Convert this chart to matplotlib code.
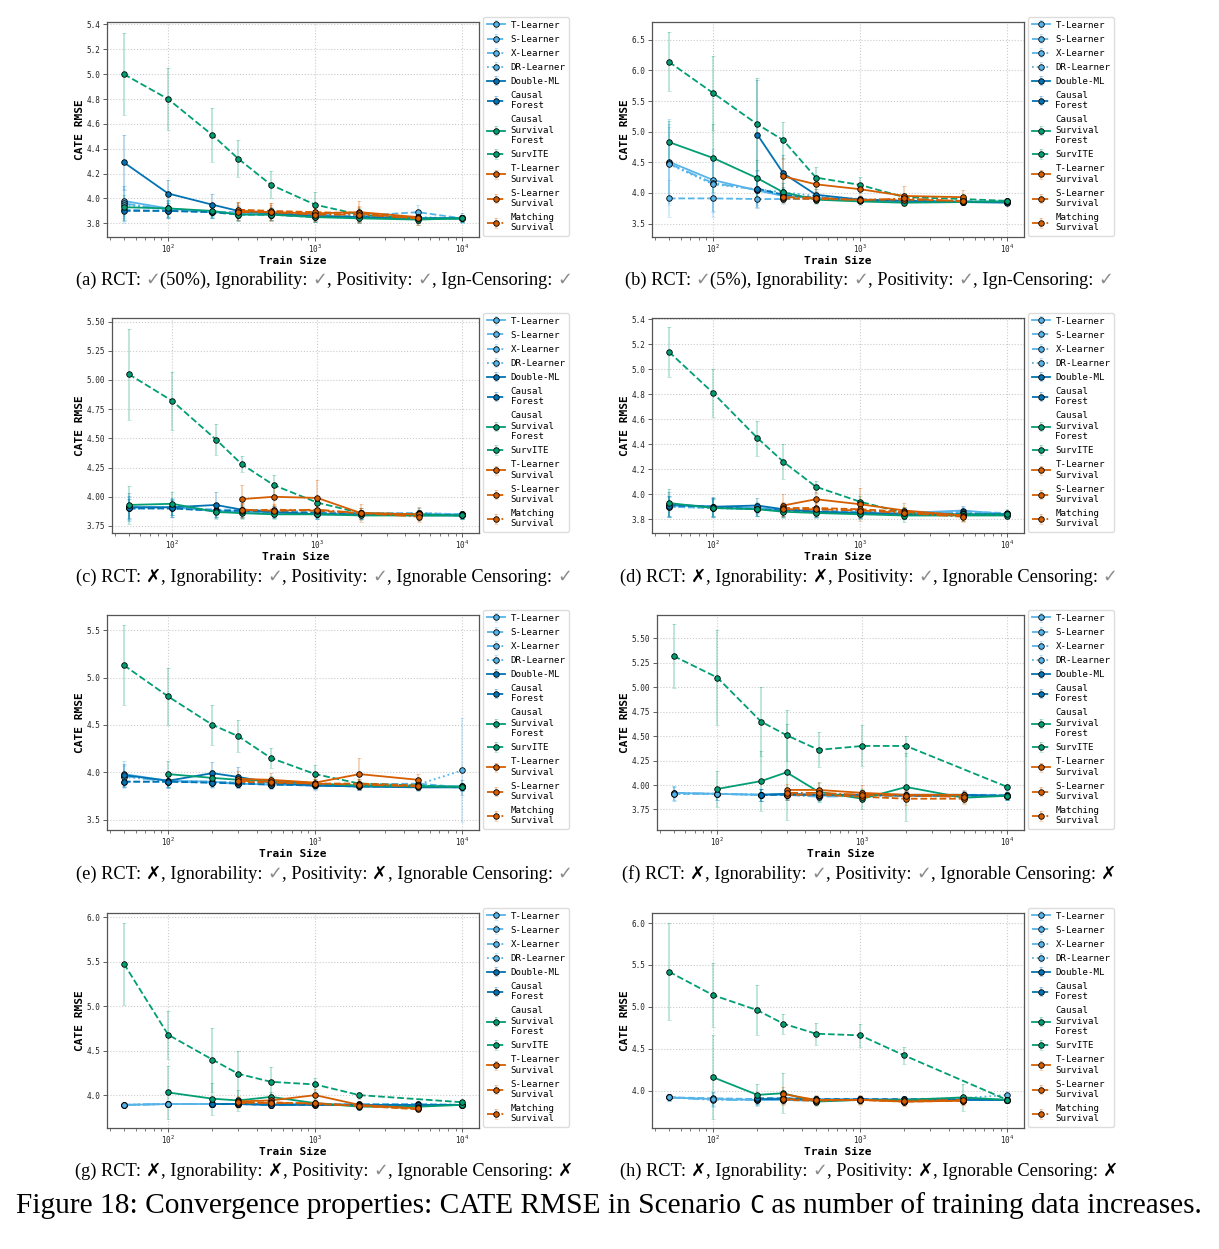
import numpy as np
import matplotlib
matplotlib.use('Agg')
import matplotlib.pyplot as plt
from matplotlib.colors import to_rgba
from matplotlib.ticker import MultipleLocator, LogLocator, NullFormatter
from matplotlib.transforms import IdentityTransform

nan = np.nan

# train sizes (x axis)
train_size = [50, 100, 200, 300, 500, 1000, 2000, 5000, 10000]

methods = ['T-Learner', 'S-Learner', 'X-Learner', 'DR-Learner', 'Double-ML',
           'Causal\nForest', 'Causal\nSurvival\nForest', 'SurvITE',
           'T-Learner\nSurvival', 'S-Learner\nSurvival', 'Matching\nSurvival']

# CATE RMSE, one row per method (same order as methods)
rmse_a = [[3.98, 3.92, 3.89, 3.88, 3.87, 3.86, 3.85, 3.84, 3.84],
          [3.91, 3.90, 3.89, 3.89, 3.88, 3.87, 3.86, 3.89, 3.84],
          [3.96, 3.91, 3.89, 3.88, 3.87, 3.86, 3.85, 3.84, 3.84],
          [3.95, 3.91, 3.89, 3.89, 3.88, 3.87, 3.86, 3.85, 3.84],
          [4.29, 4.04, 3.95, 3.90, 3.88, 3.86, 3.85, 3.84, 3.84],
          [3.90, 3.90, 3.89, 3.87, 3.87, 3.85, 3.85, 3.84, 3.84],
          [3.93, 3.92, 3.90, 3.87, 3.87, 3.85, 3.84, 3.83, 3.84],
          [5.00, 4.80, 4.51, 4.32, 4.11, 3.95, 3.87, 3.84, 3.84],
          [nan, nan, nan, 3.90, 3.89, 3.88, 3.89, 3.85, nan],
          [nan, nan, nan, 3.91, 3.90, 3.89, 3.88, 3.84, nan],
          [nan, nan, nan, 3.89, 3.89, 3.87, 3.87, 3.84, nan]]
err_a = [[0.12, 0.07, 0.05, 0.05, 0.04, 0.04, 0.04, 0.04, 0.03],
         [0.08, 0.06, 0.05, 0.05, 0.04, 0.04, 0.04, 0.06, 0.03],
         [0.12, 0.07, 0.05, 0.05, 0.04, 0.04, 0.04, 0.04, 0.03],
         [0.15, 0.07, 0.05, 0.05, 0.04, 0.04, 0.04, 0.04, 0.03],
         [0.22, 0.11, 0.09, 0.06, 0.05, 0.05, 0.05, 0.04, 0.04],
         [0.08, 0.06, 0.05, 0.05, 0.04, 0.04, 0.04, 0.04, 0.03],
         [0.10, 0.07, 0.05, 0.05, 0.05, 0.04, 0.04, 0.04, 0.03],
         [0.33, 0.25, 0.22, 0.15, 0.11, 0.10, 0.05, 0.04, 0.03],
         [nan, nan, nan, 0.07, 0.07, 0.06, 0.09, 0.05, nan],
         [nan, nan, nan, 0.06, 0.06, 0.05, 0.06, 0.05, nan],
         [nan, nan, nan, 0.06, 0.06, 0.05, 0.06, 0.05, nan]]

rmse_b = [[4.51, 4.21, 4.04, 3.95, 3.91, 3.88, 3.86, 3.85, 3.85],
          [3.91, 3.91, 3.90, 3.90, 3.90, 3.88, 3.87, 3.86, 3.86],
          [4.48, 4.16, 4.05, 3.96, 3.91, 3.88, 3.86, 3.85, 3.85],
          [4.47, 4.14, 4.06, 4.01, 3.95, 3.90, 3.87, 3.86, 3.86],
          [nan, nan, 4.95, 4.32, 3.97, 3.89, 3.87, 3.85, 3.84],
          [nan, nan, 4.07, 3.97, 3.92, 3.89, 3.87, 3.86, 3.85],
          [4.83, 4.57, 4.24, 4.01, 3.89, 3.86, 3.84, 3.85, 3.86],
          [6.14, 5.63, 5.12, 4.86, 4.25, 4.13, 3.93, 3.90, 3.87],
          [nan, nan, nan, 4.27, 4.14, 4.06, 3.95, 3.93, nan],
          [nan, nan, nan, 3.91, 3.90, 3.89, 3.89, 3.87, nan],
          [nan, nan, nan, 3.93, 3.92, 3.88, 3.91, 3.86, nan]]
err_b = [[0.70, 0.50, 0.20, 0.10, 0.07, 0.05, 0.04, 0.04, 0.03],
         [0.30, 0.30, 0.15, 0.08, 0.06, 0.05, 0.04, 0.04, 0.03],
         [0.65, 0.45, 0.25, 0.12, 0.07, 0.05, 0.04, 0.04, 0.03],
         [0.60, 0.45, 0.30, 0.15, 0.08, 0.05, 0.04, 0.04, 0.03],
         [nan, nan, 0.90, 0.30, 0.10, 0.06, 0.05, 0.04, 0.03],
         [nan, nan, 0.30, 0.12, 0.07, 0.05, 0.04, 0.04, 0.03],
         [0.35, 0.55, 0.30, 0.15, 0.07, 0.05, 0.04, 0.04, 0.03],
         [0.48, 0.60, 0.75, 0.30, 0.18, 0.13, 0.07, 0.05, 0.03],
         [nan, nan, nan, 0.30, 0.12, 0.10, 0.17, 0.12, nan],
         [nan, nan, nan, 0.07, 0.06, 0.05, 0.05, 0.05, nan],
         [nan, nan, nan, 0.08, 0.06, 0.05, 0.06, 0.05, nan]]

rmse_c = [[3.91, 3.91, 3.88, 3.87, 3.86, 3.85, 3.85, 3.85, 3.85],
          [3.90, 3.91, 3.89, 3.89, 3.88, 3.87, 3.86, 3.86, 3.85],
          [3.91, 3.91, 3.88, 3.87, 3.86, 3.85, 3.85, 3.85, 3.84],
          [3.90, 3.90, 3.88, 3.87, 3.87, 3.86, 3.85, 3.86, 3.85],
          [3.91, 3.91, 3.93, 3.89, 3.87, 3.85, 3.85, 3.84, 3.84],
          [3.90, 3.90, 3.88, 3.88, 3.87, 3.86, 3.85, 3.85, 3.84],
          [3.93, 3.94, 3.87, 3.86, 3.85, 3.85, 3.84, 3.84, 3.84],
          [5.05, 4.82, 4.49, 4.28, 4.10, 3.95, 3.86, 3.85, 3.84],
          [nan, nan, nan, 3.98, 4.00, 3.99, 3.86, 3.85, nan],
          [nan, nan, nan, 3.88, 3.89, 3.88, 3.86, 3.85, nan],
          [nan, nan, nan, 3.89, 3.88, 3.89, 3.86, 3.83, nan]]
err_c = [[0.10, 0.07, 0.05, 0.05, 0.04, 0.04, 0.04, 0.04, 0.03],
         [0.08, 0.07, 0.05, 0.05, 0.04, 0.04, 0.04, 0.04, 0.03],
         [0.10, 0.07, 0.05, 0.05, 0.04, 0.04, 0.04, 0.04, 0.03],
         [0.10, 0.07, 0.05, 0.05, 0.04, 0.04, 0.04, 0.04, 0.03],
         [0.12, 0.08, 0.11, 0.06, 0.05, 0.04, 0.04, 0.04, 0.03],
         [0.08, 0.07, 0.05, 0.05, 0.04, 0.04, 0.04, 0.04, 0.03],
         [0.16, 0.10, 0.06, 0.05, 0.04, 0.04, 0.04, 0.04, 0.03],
         [0.39, 0.25, 0.13, 0.07, 0.09, 0.05, 0.04, 0.03, 0.03],
         [nan, nan, nan, 0.12, 0.08, 0.15, 0.08, 0.06, nan],
         [nan, nan, nan, 0.06, 0.05, 0.05, 0.04, 0.04, nan],
         [nan, nan, nan, 0.06, 0.05, 0.05, 0.04, 0.05, nan]]

rmse_d = [[3.91, 3.90, 3.89, 3.88, 3.86, 3.85, 3.85, 3.87, 3.84],
          [3.90, 3.89, 3.88, 3.88, 3.87, 3.86, 3.85, 3.86, 3.85],
          [3.91, 3.90, 3.88, 3.88, 3.86, 3.85, 3.85, 3.86, 3.84],
          [3.90, 3.89, 3.88, 3.87, 3.87, 3.86, 3.85, 3.85, 3.84],
          [3.92, 3.90, 3.91, 3.88, 3.86, 3.85, 3.84, 3.84, 3.84],
          [3.91, 3.90, 3.88, 3.87, 3.86, 3.85, 3.84, 3.84, 3.84],
          [3.93, 3.89, 3.88, 3.86, 3.85, 3.84, 3.83, 3.83, 3.83],
          [5.14, 4.81, 4.45, 4.26, 4.06, 3.94, 3.85, 3.84, 3.84],
          [nan, nan, nan, 3.91, 3.96, 3.92, 3.87, 3.83, nan],
          [nan, nan, nan, 3.89, 3.89, 3.88, 3.86, 3.83, nan],
          [nan, nan, nan, 3.88, 3.88, 3.87, 3.85, 3.82, nan]]
err_d = [[0.08, 0.07, 0.05, 0.05, 0.04, 0.04, 0.04, 0.04, 0.03],
         [0.08, 0.07, 0.05, 0.05, 0.04, 0.04, 0.04, 0.05, 0.03],
         [0.08, 0.07, 0.05, 0.05, 0.04, 0.04, 0.04, 0.04, 0.03],
         [0.08, 0.07, 0.05, 0.05, 0.04, 0.04, 0.04, 0.04, 0.03],
         [0.10, 0.08, 0.06, 0.05, 0.04, 0.04, 0.04, 0.04, 0.03],
         [0.08, 0.07, 0.05, 0.05, 0.04, 0.04, 0.04, 0.04, 0.03],
         [0.11, 0.07, 0.05, 0.05, 0.04, 0.04, 0.05, 0.04, 0.03],
         [0.20, 0.19, 0.14, 0.14, 0.05, 0.05, 0.05, 0.03, 0.02],
         [nan, nan, nan, 0.09, 0.06, 0.13, 0.06, 0.04, nan],
         [nan, nan, nan, 0.05, 0.05, 0.05, 0.04, 0.04, nan],
         [nan, nan, nan, 0.05, 0.05, 0.05, 0.04, 0.04, nan]]

rmse_e = [[3.98, 3.91, 3.90, 3.88, 3.87, 3.86, 3.85, 3.85, 3.85],
          [3.90, 3.90, 3.90, 3.89, 3.88, 3.87, 3.87, 3.88, 3.84],
          [3.96, 3.90, 3.89, 3.88, 3.87, 3.86, 3.85, 3.85, 3.84],
          [3.95, 3.91, 3.90, 3.89, 3.88, 3.87, 3.86, 3.87, 4.02],
          [3.97, 3.91, 3.99, 3.95, 3.89, 3.86, 3.85, 3.84, 3.84],
          [3.90, 3.90, 3.89, 3.88, 3.87, 3.86, 3.85, 3.85, 3.84],
          [nan, 3.98, 3.94, 3.92, 3.91, 3.88, 3.86, 3.85, 3.85],
          [5.13, 4.80, 4.50, 4.38, 4.15, 3.98, 3.88, 3.86, 3.84],
          [nan, nan, nan, 3.93, 3.92, 3.89, 3.98, 3.92, nan],
          [nan, nan, nan, 3.90, 3.89, 3.88, 3.88, 3.86, nan],
          [nan, nan, nan, 3.91, 3.90, 3.88, 3.87, 3.85, nan]]
err_e = [[0.14, 0.07, 0.06, 0.05, 0.05, 0.04, 0.04, 0.04, 0.04],
         [0.06, 0.06, 0.05, 0.05, 0.04, 0.04, 0.04, 0.05, 0.04],
         [0.12, 0.07, 0.06, 0.05, 0.05, 0.04, 0.04, 0.04, 0.04],
         [0.12, 0.07, 0.06, 0.05, 0.05, 0.04, 0.04, 0.05, 0.55],
         [0.12, 0.08, 0.12, 0.10, 0.06, 0.05, 0.04, 0.04, 0.08],
         [0.06, 0.06, 0.05, 0.05, 0.04, 0.04, 0.04, 0.04, 0.04],
         [nan, 0.14, 0.08, 0.06, 0.05, 0.05, 0.04, 0.04, 0.04],
         [0.42, 0.30, 0.21, 0.17, 0.11, 0.10, 0.05, 0.04, 0.03],
         [nan, nan, nan, 0.08, 0.07, 0.06, 0.17, 0.06, nan],
         [nan, nan, nan, 0.06, 0.05, 0.05, 0.05, 0.04, nan],
         [nan, nan, nan, 0.06, 0.05, 0.05, 0.05, 0.04, nan]]

rmse_f = [[3.92, 3.91, 3.90, 3.91, 3.89, 3.90, 3.89, 3.89, 3.89],
          [3.91, 3.91, 3.90, 3.90, 3.90, 3.90, 3.90, 3.90, 3.90],
          [3.92, 3.91, 3.90, 3.90, 3.88, 3.89, 3.89, 3.89, 3.89],
          [3.91, 3.91, 3.90, 3.90, 3.89, 3.90, 3.89, 3.89, 3.89],
          [nan, nan, 3.90, 3.91, 3.90, 3.90, 3.90, 3.90, 3.89],
          [nan, nan, 3.90, 3.90, 3.90, 3.90, 3.89, 3.89, 3.89],
          [nan, 3.96, 4.04, 4.13, 3.93, 3.86, 3.98, 3.87, 3.89],
          [5.32, 5.10, 4.65, 4.51, 4.36, 4.40, 4.40, nan, 3.98],
          [nan, nan, nan, 3.95, 3.95, 3.92, 3.90, 3.90, nan],
          [nan, nan, nan, 3.90, 3.90, 3.88, 3.86, 3.86, nan],
          [nan, nan, nan, 3.92, 3.92, 3.90, 3.89, 3.88, nan]]
err_f = [[0.07, 0.06, 0.06, 0.05, 0.05, 0.05, 0.04, 0.04, 0.04],
         [0.07, 0.06, 0.06, 0.05, 0.05, 0.05, 0.04, 0.04, 0.04],
         [0.07, 0.06, 0.06, 0.05, 0.05, 0.05, 0.04, 0.04, 0.04],
         [0.07, 0.06, 0.06, 0.05, 0.05, 0.05, 0.04, 0.04, 0.04],
         [nan, nan, 0.06, 0.05, 0.05, 0.05, 0.04, 0.04, 0.04],
         [nan, nan, 0.06, 0.05, 0.05, 0.05, 0.04, 0.04, 0.04],
         [nan, 0.18, 0.31, 0.49, 0.10, 0.10, 0.35, 0.05, 0.04],
         [0.33, 0.49, 0.35, 0.26, 0.18, 0.21, 0.10, nan, 0.03],
         [nan, nan, nan, 0.06, 0.07, 0.08, 0.05, 0.05, nan],
         [nan, nan, nan, 0.05, 0.05, 0.05, 0.06, 0.05, nan],
         [nan, nan, nan, 0.05, 0.05, 0.05, 0.05, 0.05, nan]]

rmse_g = [[3.89, 3.90, 3.90, 3.90, 3.90, 3.90, 3.89, 3.89, 3.89],
          [3.89, 3.90, 3.90, 3.90, 3.90, 3.90, 3.90, 3.90, 3.89],
          [3.89, 3.90, 3.90, 3.90, 3.89, 3.90, 3.89, 3.89, 3.89],
          [3.89, 3.90, 3.90, 3.90, 3.90, 3.90, 3.90, 3.90, 3.89],
          [nan, nan, 3.90, 3.90, 3.89, 3.89, 3.89, 3.89, 3.89],
          [nan, nan, 3.90, 3.90, 3.89, 3.89, 3.89, 3.89, 3.89],
          [nan, 4.03, 3.96, 3.94, 3.98, 3.91, 3.87, 3.87, 3.89],
          [5.48, 4.68, 4.40, 4.24, 4.15, 4.12, 4.00, nan, 3.92],
          [nan, nan, nan, 3.93, 3.94, 4.00, 3.89, 3.85, nan],
          [nan, nan, nan, 3.91, 3.92, 3.90, 3.88, 3.84, nan],
          [nan, nan, nan, 3.92, 3.91, 3.91, 3.88, 3.85, nan]]
err_g = [[0.02, 0.03, 0.03, 0.03, 0.03, 0.02, 0.02, 0.02, 0.02],
         [0.02, 0.03, 0.03, 0.03, 0.03, 0.02, 0.02, 0.02, 0.02],
         [0.02, 0.03, 0.03, 0.03, 0.03, 0.02, 0.02, 0.02, 0.02],
         [0.02, 0.03, 0.03, 0.03, 0.03, 0.02, 0.02, 0.02, 0.02],
         [nan, nan, 0.03, 0.03, 0.03, 0.02, 0.02, 0.02, 0.02],
         [nan, nan, 0.03, 0.03, 0.03, 0.02, 0.02, 0.02, 0.02],
         [nan, 0.30, 0.18, 0.12, 0.06, 0.05, 0.04, 0.03, 0.03],
         [0.46, 0.27, 0.36, 0.26, 0.17, 0.07, 0.04, nan, 0.02],
         [nan, nan, nan, 0.06, 0.07, 0.07, 0.04, 0.03, nan],
         [nan, nan, nan, 0.05, 0.05, 0.04, 0.03, 0.03, nan],
         [nan, nan, nan, 0.05, 0.05, 0.04, 0.03, 0.03, nan]]

rmse_h = [[3.92, 3.90, 3.89, 3.89, 3.88, 3.89, 3.89, 3.89, 3.89],
          [3.92, 3.91, 3.90, 3.90, 3.90, 3.90, 3.89, 3.90, 3.89],
          [3.92, 3.89, 3.89, 3.90, 3.89, 3.89, 3.89, 3.90, 3.89],
          [3.92, 3.90, 3.90, 3.91, 3.90, 3.90, 3.90, 3.91, 3.95],
          [nan, nan, 3.90, 3.90, 3.89, 3.89, 3.89, 3.89, 3.89],
          [nan, nan, 3.91, 3.91, 3.90, 3.90, 3.90, 3.90, 3.89],
          [nan, 4.16, 3.95, 3.97, 3.87, 3.89, 3.89, 3.92, 3.89],
          [5.42, 5.14, 4.96, 4.80, 4.68, 4.66, 4.42, nan, 3.89],
          [nan, nan, nan, 3.96, 3.89, 3.89, 3.87, 3.88, nan],
          [nan, nan, nan, 3.89, 3.88, 3.89, 3.87, 3.88, nan],
          [nan, nan, nan, 3.90, 3.89, 3.89, 3.88, 3.89, nan]]
err_h = [[0.04, 0.08, 0.06, 0.05, 0.04, 0.04, 0.04, 0.04, 0.04],
         [0.04, 0.08, 0.06, 0.05, 0.04, 0.04, 0.04, 0.04, 0.04],
         [0.04, 0.08, 0.06, 0.05, 0.04, 0.04, 0.04, 0.04, 0.04],
         [0.04, 0.08, 0.06, 0.05, 0.04, 0.04, 0.04, 0.04, 0.05],
         [nan, nan, 0.06, 0.05, 0.04, 0.04, 0.04, 0.04, 0.04],
         [nan, nan, 0.06, 0.05, 0.04, 0.04, 0.04, 0.04, 0.04],
         [nan, 0.50, 0.13, 0.24, 0.05, 0.05, 0.05, 0.16, 0.03],
         [0.58, 0.38, 0.30, 0.12, 0.13, 0.14, 0.10, nan, 0.03],
         [nan, nan, nan, 0.08, 0.06, 0.06, 0.05, 0.05, nan],
         [nan, nan, nan, 0.06, 0.05, 0.05, 0.05, 0.05, nan],
         [nan, nan, nan, 0.06, 0.05, 0.05, 0.05, 0.05, nan]]

captions = ['(a) RCT: ✓(50%), Ignorability: ✓, Positivity: ✓, Ign-Censoring: ✓',
            '(b) RCT: ✓(5%), Ignorability: ✓, Positivity: ✓, Ign-Censoring: ✓',
            '(c) RCT: ✗, Ignorability: ✓, Positivity: ✓, Ignorable Censoring: ✓',
            '(d) RCT: ✗, Ignorability: ✗, Positivity: ✓, Ignorable Censoring: ✓',
            '(e) RCT: ✗, Ignorability: ✓, Positivity: ✗, Ignorable Censoring: ✓',
            '(f) RCT: ✗, Ignorability: ✓, Positivity: ✓, Ignorable Censoring: ✗',
            '(g) RCT: ✗, Ignorability: ✗, Positivity: ✓, Ignorable Censoring: ✗',
            '(h) RCT: ✗, Ignorability: ✓, Positivity: ✗, Ignorable Censoring: ✗']

# ---- styles ----
light_blue = '#56B4E9'
dark_blue = '#0173B2'
green = '#029E73'
orange = '#D55E00'
colors = [light_blue] * 4 + [dark_blue] * 2 + [green] * 2 + [orange] * 3
lstyles = ['-', '--', '-.', ':', '-', '--', '-', '--', '-', '--', '-.']

plt.rcParams['font.family'] = ['DejaVu Sans Mono']
plt.rcParams['axes.unicode_minus'] = False

W, H = 1219, 1249
fig = plt.figure(figsize=(W / 100, H / 100), dpi=100)

# panel layout in pixels: left edge, column, row, ylim, y step
row_top = [22, 318, 615, 913]
ax_h = 215
right_edge = [479, 1024]
cap_cx = [324, 869]
cap_base = [285, 582, 879, 1176]

panels = [(rmse_a, err_a, 107, 0, 0, (3.69, 5.42), 0.2),
          (rmse_b, err_b, 652, 1, 0, (3.28, 6.79), 0.5),
          (rmse_c, err_c, 112, 0, 1, (3.69, 5.53), 0.25),
          (rmse_d, err_d, 652, 1, 1, (3.69, 5.41), 0.2),
          (rmse_e, err_e, 107, 0, 2, (3.39, 5.66), 0.5),
          (rmse_f, err_f, 657, 1, 2, (3.54, 5.74), 0.25),
          (rmse_g, err_g, 107, 0, 3, (3.63, 6.05), 0.5),
          (rmse_h, err_h, 652, 1, 3, (3.555, 6.12), 0.5)]

x = np.array(train_size, dtype=float)

for rmse, err, left, col, row, ylim, ystep in panels:
    right = right_edge[col]
    top = row_top[row]
    ax = fig.add_axes([left / W, 1 - (top + ax_h) / H, (right - left) / W, ax_h / H])
    for i, name in enumerate(methods):
        y = np.array(rmse[i], dtype=float)
        e = np.array(err[i], dtype=float)
        m = np.isfinite(y)
        ax.errorbar(x[m], y[m], yerr=e[m], color=colors[i], ls=lstyles[i], lw=1.3,
                    marker='o', ms=4, mec='black', mew=0.6,
                    ecolor=to_rgba(colors[i], 0.3), elinewidth=1.2, capsize=1.5,
                    label=name)
    ax.set_xscale('log')
    ax.set_xlim(38.4, 13000)
    ax.set_ylim(*ylim)
    ax.yaxis.set_major_locator(MultipleLocator(ystep))
    ax.xaxis.set_major_locator(LogLocator(base=10, numticks=10))
    ax.xaxis.set_minor_locator(LogLocator(base=10, subs=np.arange(2, 10), numticks=20))
    ax.xaxis.set_minor_formatter(NullFormatter())
    ax.tick_params(axis='both', which='major', labelsize=5.5, length=3, width=0.6, pad=2,
                   color='#444444', labelcolor='#222222')
    ax.tick_params(axis='x', which='major', pad=1)
    ax.tick_params(axis='both', which='minor', length=1.8, width=0.5, color='#444444')
    ax.grid(True, which='major', color='#cccccc', ls=':', lw=0.8)
    for s in ax.spines.values():
        s.set_color('#555555')
        s.set_linewidth(0.9)
    ax.set_xlabel('Train Size', fontsize=8, fontweight='bold', labelpad=1)
    ax.set_ylabel('CATE RMSE', fontsize=8, fontweight='bold', labelpad=1)
    ax.legend(loc='upper left', bbox_to_anchor=((right + 4) / W, 1 - (top - 5) / H),
              bbox_transform=fig.transFigure, borderaxespad=0, fontsize=6.6,
              labelspacing=0.55, handlelength=2.0, handletextpad=0.6,
              frameon=True, edgecolor='#dddddd', framealpha=1)

# ---- captions (pieces so that check marks can be grey) ----
renderer = fig.canvas.get_renderer()
serif = dict(family=['Liberation Serif', 'DejaVu Sans'], color='black')
check = dict(family='DejaVu Sans', color='#8a8a8a')
cross = dict(family='DejaVu Sans', color='black', fontweight='bold')
mono = dict(family='DejaVu Sans Mono', color='black')


def piece_width(s, size, style):
    t = fig.text(0, 0, '|' + s + '|', fontsize=size, transform=IdentityTransform(), **style)
    w1 = t.get_window_extent(renderer).width
    t.set_text('||')
    w0 = t.get_window_extent(renderer).width
    t.remove()
    return w1 - w0


def draw_pieces(pieces, cx, base_y, size):
    widths = [piece_width(s, size * k, st) for s, st, k in pieces]
    xpos = cx - sum(widths) / 2
    for (s, st, k), w in zip(pieces, widths):
        fig.text(xpos, H - base_y, s, fontsize=size * k, va='baseline', ha='left',
                 transform=IdentityTransform(), **st)
        xpos += w


def split_caption(s):
    out, buf = [], ''
    for ch in s:
        if ch in '✓✗':
            if buf:
                out.append((buf, serif, 1.0))
                buf = ''
            if ch == '✓':
                out.append((ch, check, 0.97))
            else:
                out.append((ch, cross, 1.0))
        else:
            buf += ch
    if buf:
        out.append((buf, serif, 1.0))
    return out


for k, cap in enumerate(captions):
    draw_pieces(split_caption(cap), cap_cx[k % 2], cap_base[k // 2], 13.2)

main_pieces = [('Figure 18: Convergence properties: CATE RMSE in Scenario ', serif, 1.0),
               ('C', mono, 0.85),
               (' as number of training data increases.', serif, 1.0)]
w20 = sum(piece_width(s, 20 * k, st) for s, st, k in main_pieces)
draw_pieces(main_pieces, 609, 1213, 20 * 1188 / w20)

fig.savefig('out.png', dpi=100)
